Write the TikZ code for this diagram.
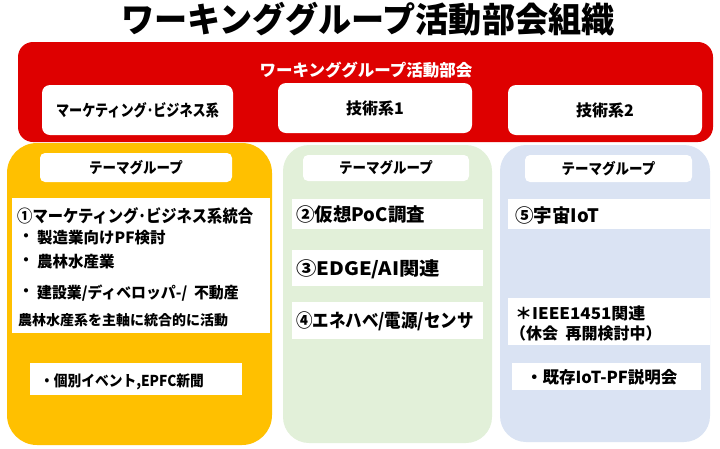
\documentclass[tikz,border=0pt]{standalone}
\usepackage{graphicx}
\usepackage{fontspec}
\setmainfont{Noto Sans CJK JP}
\definecolor{wgred}{HTML}{DE0000}
\definecolor{wgyellow}{HTML}{FFC000}
\definecolor{wggreen}{HTML}{E2F0D9}
\definecolor{wgblue}{HTML}{DAE3F3}
\newcommand{\fs}[1]{\fontsize{#1}{#1}\selectfont\bfseries}
\newcommand{\hs}[2]{\scalebox{#1}[1]{#2}}
\tikzset{
  topbox/.style={fill=white, rounded corners=8pt, inner sep=0pt},
  headbox/.style={fill=white, rounded corners=5pt, inner sep=0pt, font=\fs{15}},
  itembox/.style={fill=white, inner sep=0pt},
  ltext/.style={anchor=west, inner sep=0pt},
}
\begin{document}
\begin{tikzpicture}[x=1pt,y=-1pt]
\useasboundingbox (0,0) rectangle (720,448);
% title
\node[inner sep=0pt, font=\fs{34.5}] (title) at (368,19) {\hs{0.96}{ワーキンググループ活動部会組織}};
% red frame
\node[fill=wgred, rounded corners=15pt, minimum width=695pt, minimum height=100pt, inner sep=0pt] (red) at (365.5,92) {};
\node[text=white, inner sep=0pt, font=\fs{16.5}] (redlabel) at (366,70) {ワーキンググループ活動部会};
\node[topbox, minimum width=191pt, minimum height=50pt, font=\fs{16}] (mb) at (137.5,110) {\hs{0.82}{マーケティング･ビジネス系}};
\node[topbox, minimum width=194pt, minimum height=50pt, font=\fs{16}] (t1) at (375,108) {技術系1};
\node[topbox, minimum width=194pt, minimum height=50pt, font=\fs{16}] (t2) at (605,110) {技術系2};
% columns
\node[fill=wgyellow, rounded corners=30pt, minimum width=265pt, minimum height=302pt, inner sep=0pt] (ycol) at (139.5,294) {};
\node[fill=wggreen, rounded corners=26pt, minimum width=209pt, minimum height=298pt, inner sep=0pt] (gcol) at (387.5,294) {};
\node[fill=wgblue, rounded corners=26pt, minimum width=210pt, minimum height=297pt, inner sep=0pt] (bcol) at (605,293.5) {};
% headers
\node[headbox, minimum width=192pt, minimum height=29pt] (yhead) at (136,167.5) {\hs{0.9}{テーマグループ}};
\node[headbox, minimum width=166pt, minimum height=26pt] (ghead) at (386,168) {\hs{0.9}{テーマグループ}};
\node[headbox, minimum width=167pt, minimum height=27pt] (bhead) at (608.5,168.5) {\hs{0.9}{テーマグループ}};
% yellow content
\node[itembox, minimum width=258pt, minimum height=135pt] (ybox) at (141,265.5) {};
\node[ltext, font=\fs{17}] (y1) at (17,216) {\hs{0.9}{①マーケティング･ビジネス系統合}};
\node[inner sep=0pt, font=\fs{15}] (yb1) at (26,238) {・};
\node[ltext, font=\fs{15.5}] (y2) at (37,238) {製造業向けPF検討};
\node[inner sep=0pt, font=\fs{15}] (yb2) at (26,262) {・};
\node[ltext, font=\fs{15.5}] (y3) at (37,262) {農林水産業};
\node[inner sep=0pt, font=\fs{15}] (yb3) at (26,293) {・};
\node[ltext, font=\fs{15.5}] (y4) at (37,293) {\hs{0.96}{建設業/ディベロッパ-/\ \ 不動産}};
\node[ltext, font=\fs{14}] (y5) at (18,320) {農林水産系を主軸に統合的に活動};
\node[itembox, minimum width=212pt, minimum height=32pt] (ebox) at (136,379) {};
\node[ltext, font=\fs{15}] (etext) at (40,382) {\hs{0.915}{・個別イベント,EPFC新聞}};
% green content
\node[itembox, minimum width=191pt, minimum height=30pt] (g1) at (387.5,214) {};
\node[ltext, font=\fs{18.5}] (g1t) at (296,215) {②仮想PoC調査};
\node[itembox, minimum width=191pt, minimum height=36pt] (g2) at (387.5,268) {};
\node[ltext, font=\fs{18.5}] (g2t) at (296,269) {\hs{1.1}{③EDGE/AI関連}};
\node[itembox, minimum width=191pt, minimum height=37pt] (g3) at (387.5,320.5) {};
\node[ltext, font=\fs{18.5}] (g3t) at (296,321) {\hs{0.89}{④エネハベ/電源/センサ}};
% blue content
\node[itembox, minimum width=202pt, minimum height=30pt] (b1) at (609,214) {};
\node[ltext, font=\fs{18.5}] (b1t) at (515,215) {⑤宇宙IoT};
\node[itembox, minimum width=202pt, minimum height=47pt] (b2) at (609,321.5) {};
\node[ltext, font=\fs{16}] (b2t) at (515,313) {\hs{1.06}{＊IEEE1451関連}};
\node[ltext, font=\fs{16}] (b3t) at (510,333) {（休会\ \ 再開検討中）};
\node[itembox, minimum width=189pt, minimum height=27pt] (b3) at (606.5,376.5) {};
\node[ltext, font=\fs{16.5}] (b3x) at (526,377) {・既存IoT-PF説明会};
\end{tikzpicture}
\end{document}
